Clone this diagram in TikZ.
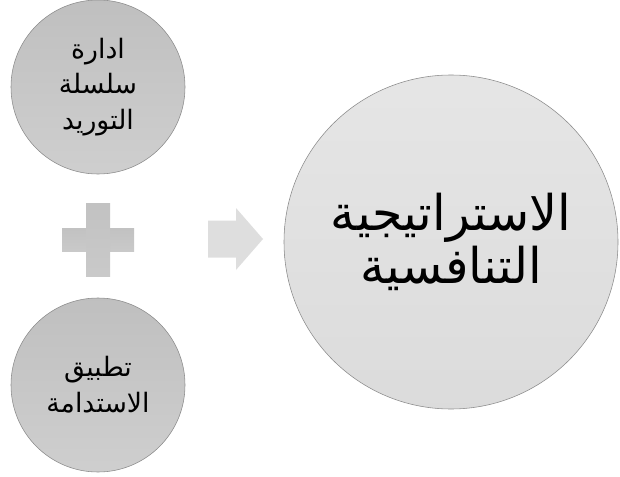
\documentclass[tikz,border=0pt]{standalone}
\usepackage{fontspec}
\usepackage{tikz}
\usetikzlibrary{shapes.geometric, arrows, positioning, calc}
\newfontfamily\arabicfont[Script=Arabic]{DejaVu Sans}
\TeXXeTstate=1

\begin{document}
\begin{tikzpicture}
    \tikzstyle{input} = [circle, minimum size=4.35cm, draw=black!45, top color=black!25, bottom color=black!19, align=center, font=\arabicfont\fontsize{19}{25.5}\selectfont]
    \tikzstyle{result} = [circle, minimum size=8.35cm, draw=black!45, top color=black!10, bottom color=black!14, align=center, font=\arabicfont\fontsize{35}{38}\selectfont]
    \tikzstyle{bar} = [rectangle, inner sep=0pt, top color=black!24, bottom color=black!21]
    \tikzstyle{pointer} = [fill=black!13]

    \useasboundingbox (0,0) rectangle (15.5,-11.925);

    \node[input] (supply) at (2.45,-2.175) {\beginR ادارة\endR\\\beginR سلسلة\endR\\\beginR التوريد\endR};
    \node[input] (sustain) at (2.45,-9.625) {\beginR تطبيق\endR\\\beginR الاستدامة\endR};
    \node[result] (strategy) at (11.275,-6.05) {\beginR الاستراتيجية\endR\\\beginR التنافسية\endR};

    % plus sign and arrow between the circles
    \node[bar, minimum width=1.8cm, minimum height=0.575cm] (plush) at (2.45,-5.99) {};
    \node[bar, minimum width=0.6cm, minimum height=1.825cm] (plusv) at (2.45,-5.99) {};
    \coordinate (arrow) at (5.2,-5.975);
    \fill[pointer] (arrow) ++(0,0.4625) -- ++(0.7,0) -- ++(0,0.3125) -- ++(0.675,-0.775)
        -- ++(-0.675,-0.775) -- ++(0,0.3125) -- ++(-0.7,0) -- cycle;
\end{tikzpicture}
\end{document}
